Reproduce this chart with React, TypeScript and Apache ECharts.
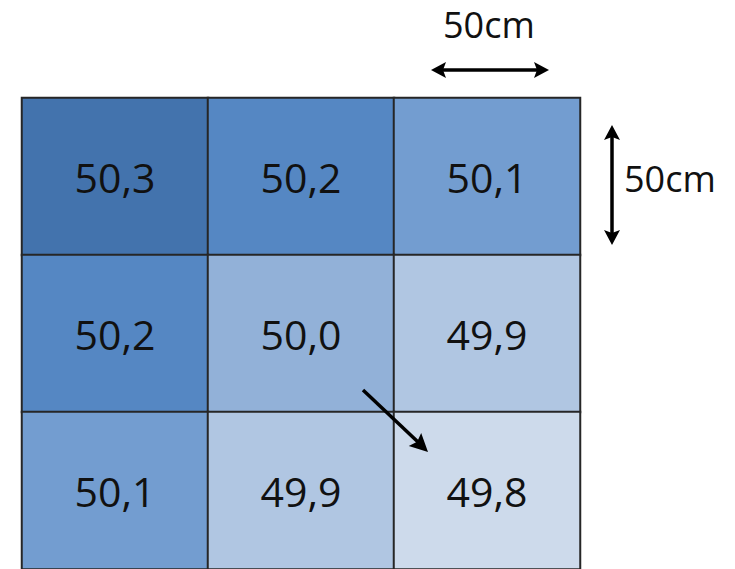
import React, { useEffect, useRef } from "react";
import * as echarts from "echarts";

const columns = ["c1", "c2", "c3"];
const rows = ["r1", "r2", "r3"];
const row1 = [50.3, 50.2, 50.1];
const row2 = [50.2, 50.0, 49.9];
const row3 = [50.1, 49.9, 49.8];
const levels = [50.3, 50.2, 50.1, 50.0, 49.9, 49.8];
const levelColors = ["#4373ad", "#5587c3", "#739dd0", "#92b1d8", "#b0c6e2", "#cddaeb"];
const sizeLabel = "50cm";

function arrowHead(tx: number, ty: number, fx: number, fy: number, len: number, half: number) {
  const dx = tx - fx;
  const dy = ty - fy;
  const d = Math.sqrt(dx * dx + dy * dy);
  const ux = dx / d;
  const uy = dy / d;
  const bx = tx - ux * len;
  const by = ty - uy * len;
  return {
    type: "polygon",
    z: 100,
    shape: {
      points: [
        [tx, ty],
        [bx - uy * half, by + ux * half],
        [bx + ux * 3, by + uy * 3],
        [bx + uy * half, by - ux * half],
      ],
    },
    style: { fill: "#000" },
  };
}

export default function App() {
  const ref = useRef<HTMLDivElement>(null);
  useEffect(() => {
    document.body.style.margin = "0";
    const chart = echarts.init(ref.current!, null, { renderer: "svg" });
    const allRows = [row1, row2, row3];
    const data: [number, number, number][] = [];
    allRows.forEach((r, ri) => r.forEach((v, ci) => data.push([ci, ri, v])));
    chart.setOption({
      animation: false,
      grid: { left: 22, top: 98, right: 155, bottom: -2 },
      xAxis: { type: "category", data: columns, show: false },
      yAxis: { type: "category", data: rows, inverse: true, show: false },
      visualMap: {
        type: "piecewise",
        show: false,
        dimension: 2,
        pieces: levels.map((v, i) => ({ value: v, color: levelColors[i] })),
      },
      series: [
        {
          type: "heatmap",
          data,
          itemStyle: { borderColor: "#262626", borderWidth: 2 },
          label: {
            show: true,
            fontFamily: "Open Sans",
            fontSize: 41,
            color: "#111",
            formatter: (p: any) => p.value[2].toFixed(1).replace(".", ","),
          },
          emphasis: { disabled: true },
        },
      ],
      graphic: [
        {
          type: "text",
          z: 100,
          left: 443,
          top: 6,
          style: { text: sizeLabel, fontFamily: "Open Sans", fontSize: 36, fill: "#111" },
        },
        { type: "line", z: 100, shape: { x1: 440, y1: 70, x2: 540, y2: 70 }, style: { stroke: "#000", lineWidth: 3.5 } },
        arrowHead(431, 70, 540, 70, 15, 8),
        arrowHead(549, 70, 440, 70, 15, 8),
        {
          type: "text",
          z: 100,
          left: 624,
          top: 160,
          style: { text: sizeLabel, fontFamily: "Open Sans", fontSize: 36, fill: "#111" },
        },
        { type: "line", z: 100, shape: { x1: 612, y1: 135, x2: 612, y2: 235 }, style: { stroke: "#000", lineWidth: 3.5 } },
        arrowHead(612, 125, 612, 235, 15, 8),
        arrowHead(612, 245, 612, 135, 15, 8),
        { type: "line", z: 100, shape: { x1: 363, y1: 390, x2: 418, y2: 442 }, style: { stroke: "#000", lineWidth: 3.5 } },
        arrowHead(428, 452, 363, 390, 18, 9),
      ],
    });
    return () => chart.dispose();
  }, []);
  return <div ref={ref} style={{ width: 735, height: 569 }} />;
}
